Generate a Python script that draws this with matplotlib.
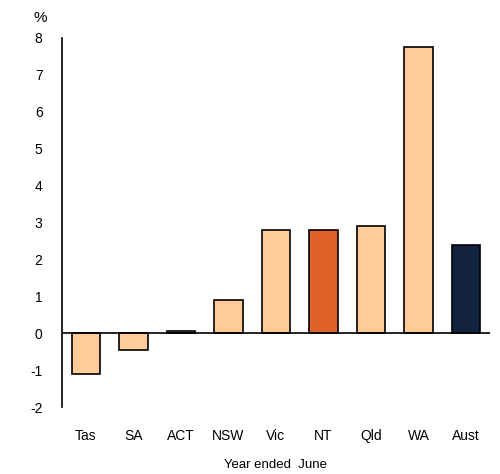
import matplotlib
matplotlib.use("Agg")
import matplotlib.pyplot as plt

categories = ["Tas", "SA", "ACT", "NSW", "Vic", "NT", "Qld", "WA", "Aust"]
values = [-1.1, -0.45, 0.06, 0.9, 2.8, 2.8, 2.9, 7.75, 2.4]
colors = ["#FFCC99", "#FFCC99", "#FFCC99", "#FFCC99", "#FFCC99",
          "#E06228", "#FFCC99", "#FFCC99", "#12243F"]
yticks = [-2, -1, 0, 1, 2, 3, 4, 5, 6, 7, 8]

plt.rcParams['font.family'] = ['Liberation Sans', 'DejaVu Sans']
fig = plt.figure(figsize=(5.0, 4.74), dpi=100)
ax = fig.add_axes([0.124, 0.141, 0.856, 0.779])

x = list(range(len(categories)))
ax.bar(x, values, width=0.6, color=colors, edgecolor="black", linewidth=1.2, zorder=2)
ax.axhline(0, color="black", linewidth=1.2, zorder=3)

ax.set_xlim(-0.5, len(categories) - 0.5)
ax.set_ylim(-2, 8)
ax.set_yticks(yticks)
ax.set_yticklabels([str(t) for t in yticks], fontsize=10)
ax.set_xticks(x)
ax.set_xticklabels(categories, fontsize=10)
ax.tick_params(axis="both", length=0)
ax.tick_params(axis="y", pad=14)
ax.tick_params(axis="x", pad=16)
for s in ["top", "right", "bottom"]:
    ax.spines[s].set_visible(False)
ax.spines["left"].set_linewidth(1.2)

ax.set_xlabel("Year ended  June", fontsize=9.5, labelpad=11)
fig.text(0.08, 0.962, "%", fontsize=11, ha="center", va="center")

fig.savefig("out.png", dpi=100)
